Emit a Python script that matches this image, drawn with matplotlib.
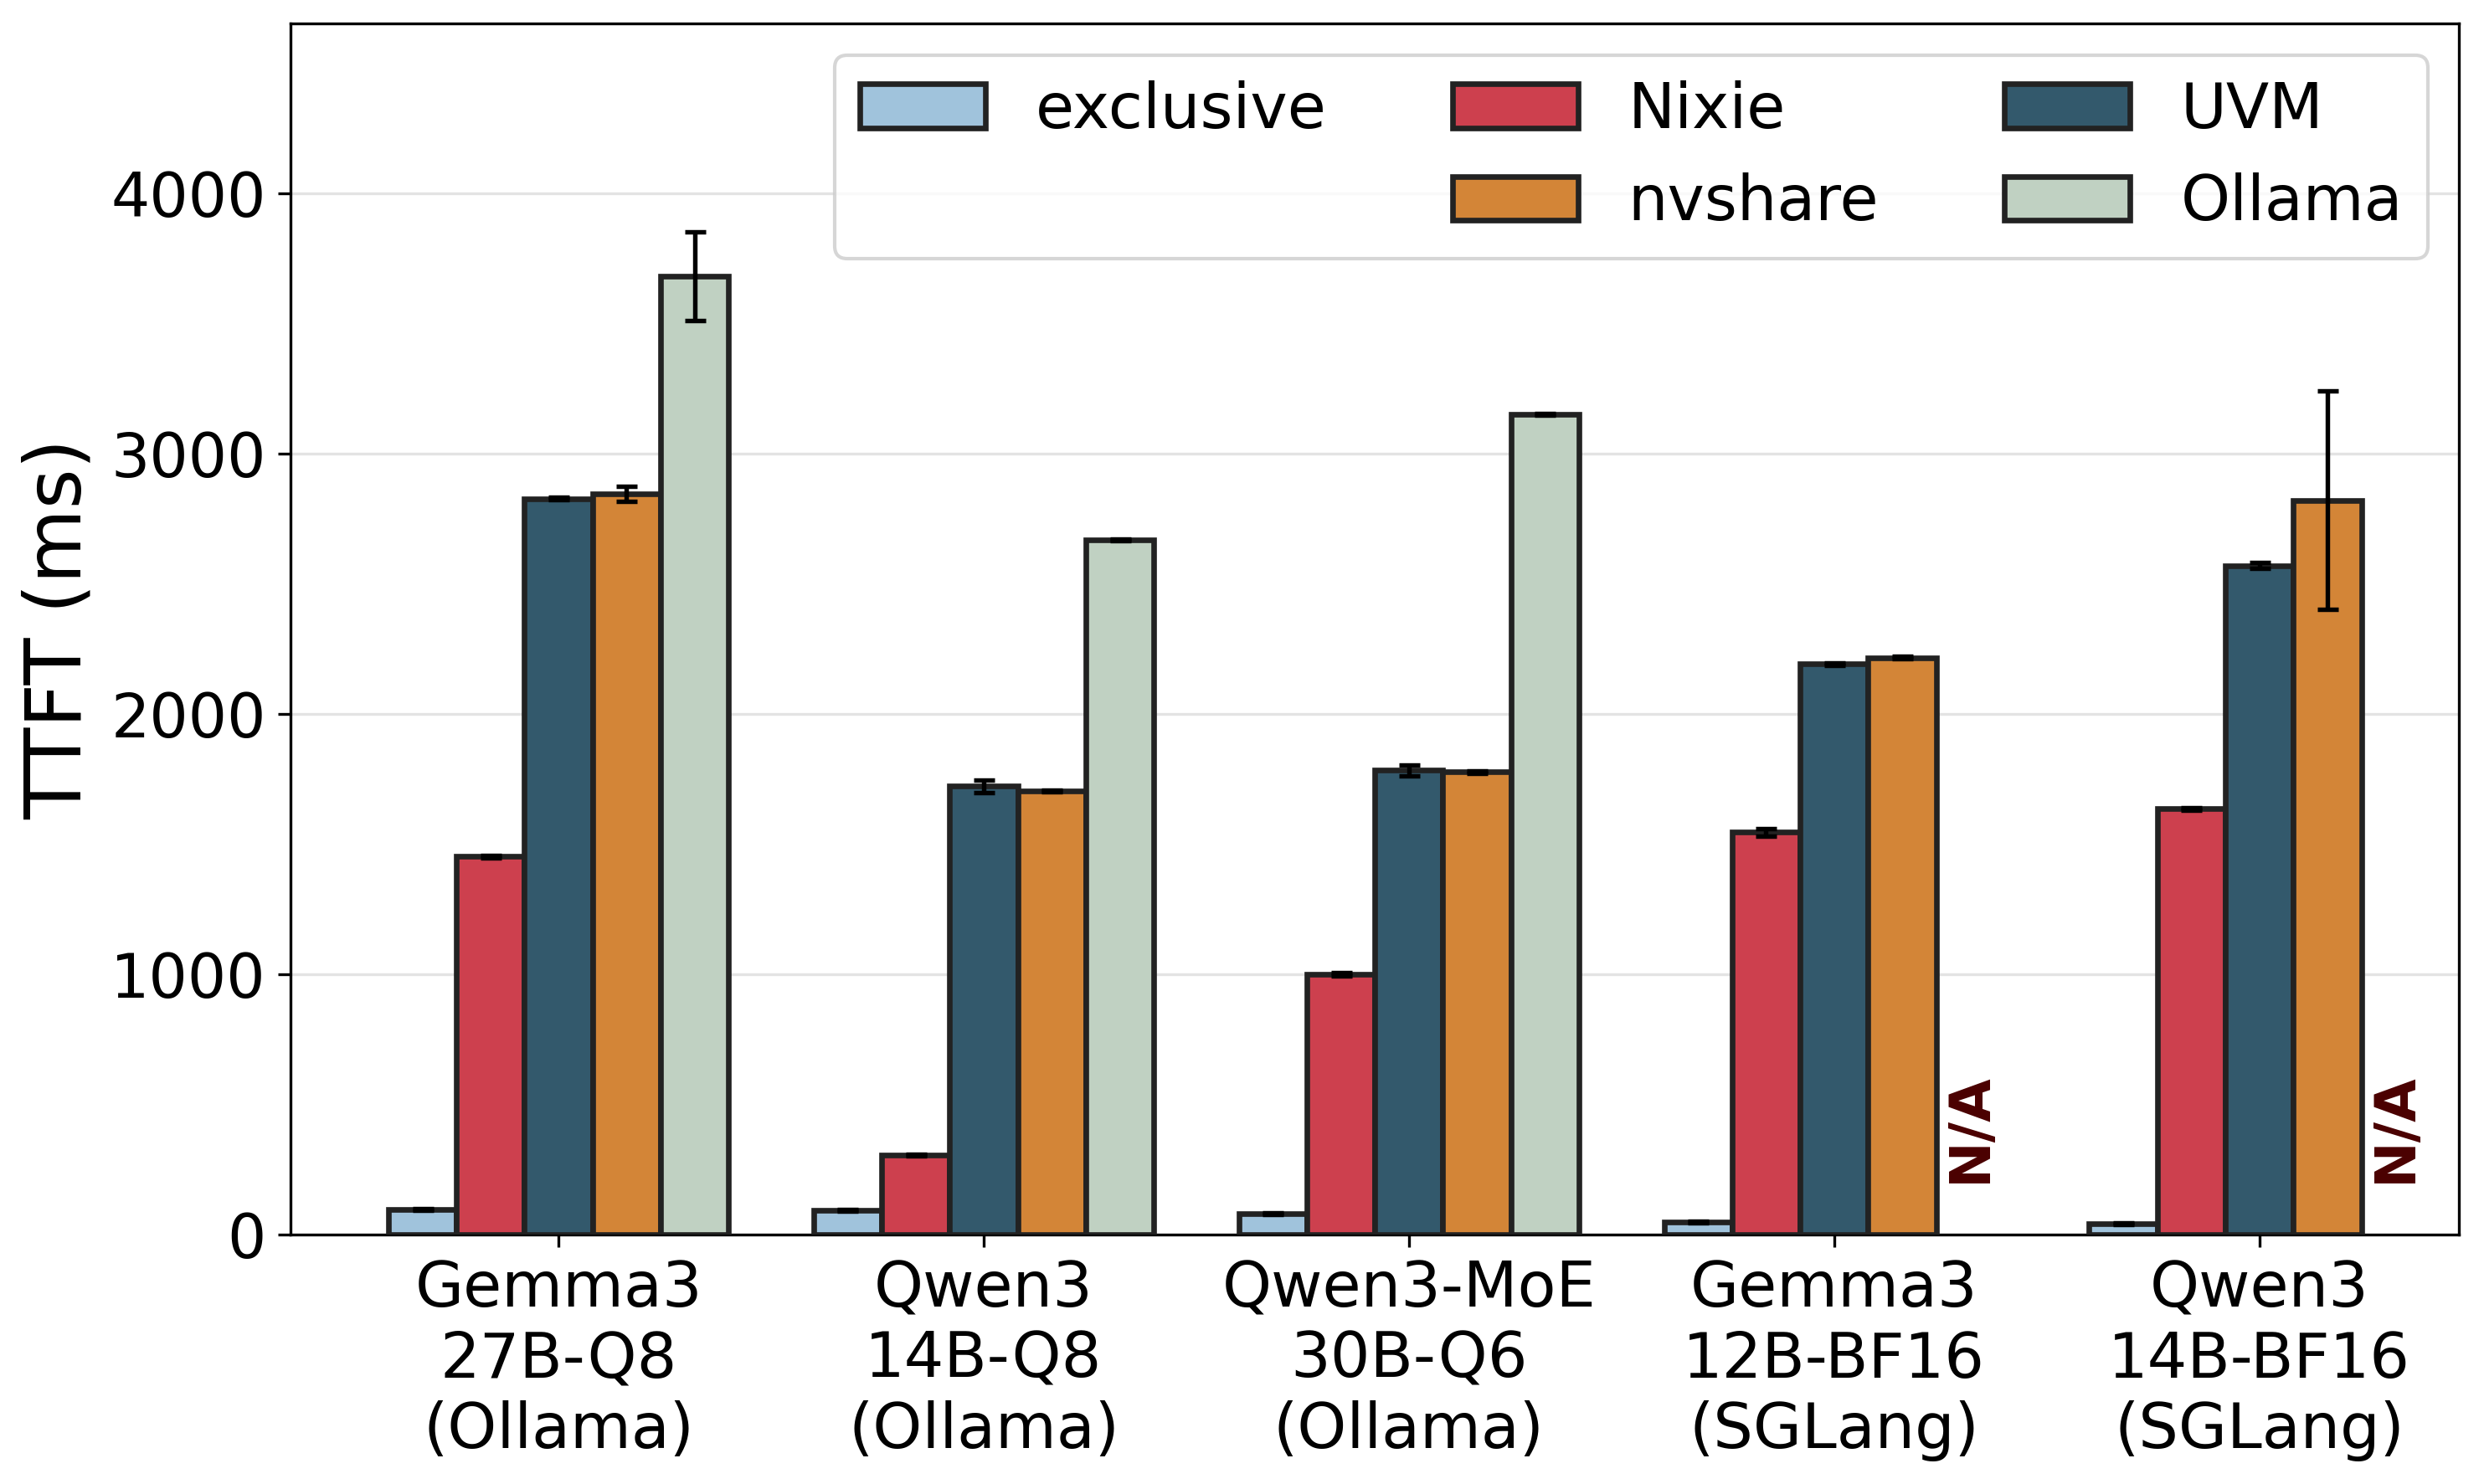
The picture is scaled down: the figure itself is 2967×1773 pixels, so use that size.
import numpy as np
import matplotlib.pyplot as plt
from matplotlib.patches import Patch

models = ["Gemma3\n27B-Q8\n(Ollama)", "Qwen3\n14B-Q8\n(Ollama)", "Qwen3-MoE\n30B-Q6\n(Ollama)",
          "Gemma3\n12B-BF16\n(SGLang)", "Qwen3\n14B-BF16\n(SGLang)"]
systems = ["exclusive", "Nixie", "UVM", "nvshare", "Ollama"]
colors = ["#a0c3dc", "#cd404e", "#33596c", "#d38537", "#c0d1c2"]

exclusive = [98, 95, 80, 48, 43]
nixie = [1453, 305, 1000, 1545, 1636]
uvm = [2827, 1722, 1783, 2192, 2570]
nvshare = [2845, 1703, 1777, 2216, 2820]
ollama = [3681, 2668, 3150, np.nan, np.nan]

exclusive_err = [3, 3, 3, 3, 3]
nixie_err = [5, 3, 5, 15, 5]
uvm_err = [5, 25, 20, 5, 10]
nvshare_err = [30, 3, 5, 5, 420]
ollama_err = [170, 3, 3, 0, 0]

values = [exclusive, nixie, uvm, nvshare, ollama]
errors = [exclusive_err, nixie_err, uvm_err, nvshare_err, ollama_err]

plt.rcParams['font.family'] = ['DejaVu Sans']
fig, ax = plt.subplots(figsize=(2967 / 300, 1773 / 300), dpi=300)
fig.subplots_adjust(left=0.117, right=0.99, top=0.984, bottom=0.168)

x = np.arange(len(models))
width = 0.16
bars = []
for i, (name, vals, errs, c) in enumerate(zip(systems, values, errors, colors)):
    pos = x + (i - 2) * width
    b = ax.bar(pos, vals, width, yerr=errs, color=c, edgecolor="#222222", linewidth=1.6,
               label=name, capsize=3, error_kw=dict(elinewidth=1.3, capthick=1.3, ecolor="black"),
               zorder=3)
    bars.append(b)
    for j, v in enumerate(vals):
        if np.isnan(v):
            ax.text(pos[j], 200, "N/A", rotation=90, ha="center", va="bottom",
                    fontsize=16, fontweight="bold", color="#4a0000", zorder=4)

ax.set_xticks(x)
ax.set_xticklabels(models, fontsize=18)
ax.tick_params(axis='y', labelsize=17.5)
ax.set_ylabel("TTFT (ms)", fontsize=22)
ax.set_xlim(-0.63, 4.47)
ax.set_ylim(0, 4650)
ax.set_yticks([0, 1000, 2000, 3000, 4000])
ax.yaxis.grid(True, color="#e3e3e3", linewidth=0.8, zorder=0)
ax.set_axisbelow(True)

blank = Patch(facecolor="none", edgecolor="none", label="")
handles = [bars[0], blank, bars[1], bars[3], bars[2], bars[4]]
labels = ["exclusive", "", "Nixie", "nvshare", "UVM", "Ollama"]
leg = ax.legend(handles, labels, loc="upper right", ncol=3, fontsize=18,
                frameon=True, fancybox=True, borderaxespad=0.5, columnspacing=2.0)
leg.get_frame().set_edgecolor("#cccccc")

fig.savefig("out.png", dpi=300)
